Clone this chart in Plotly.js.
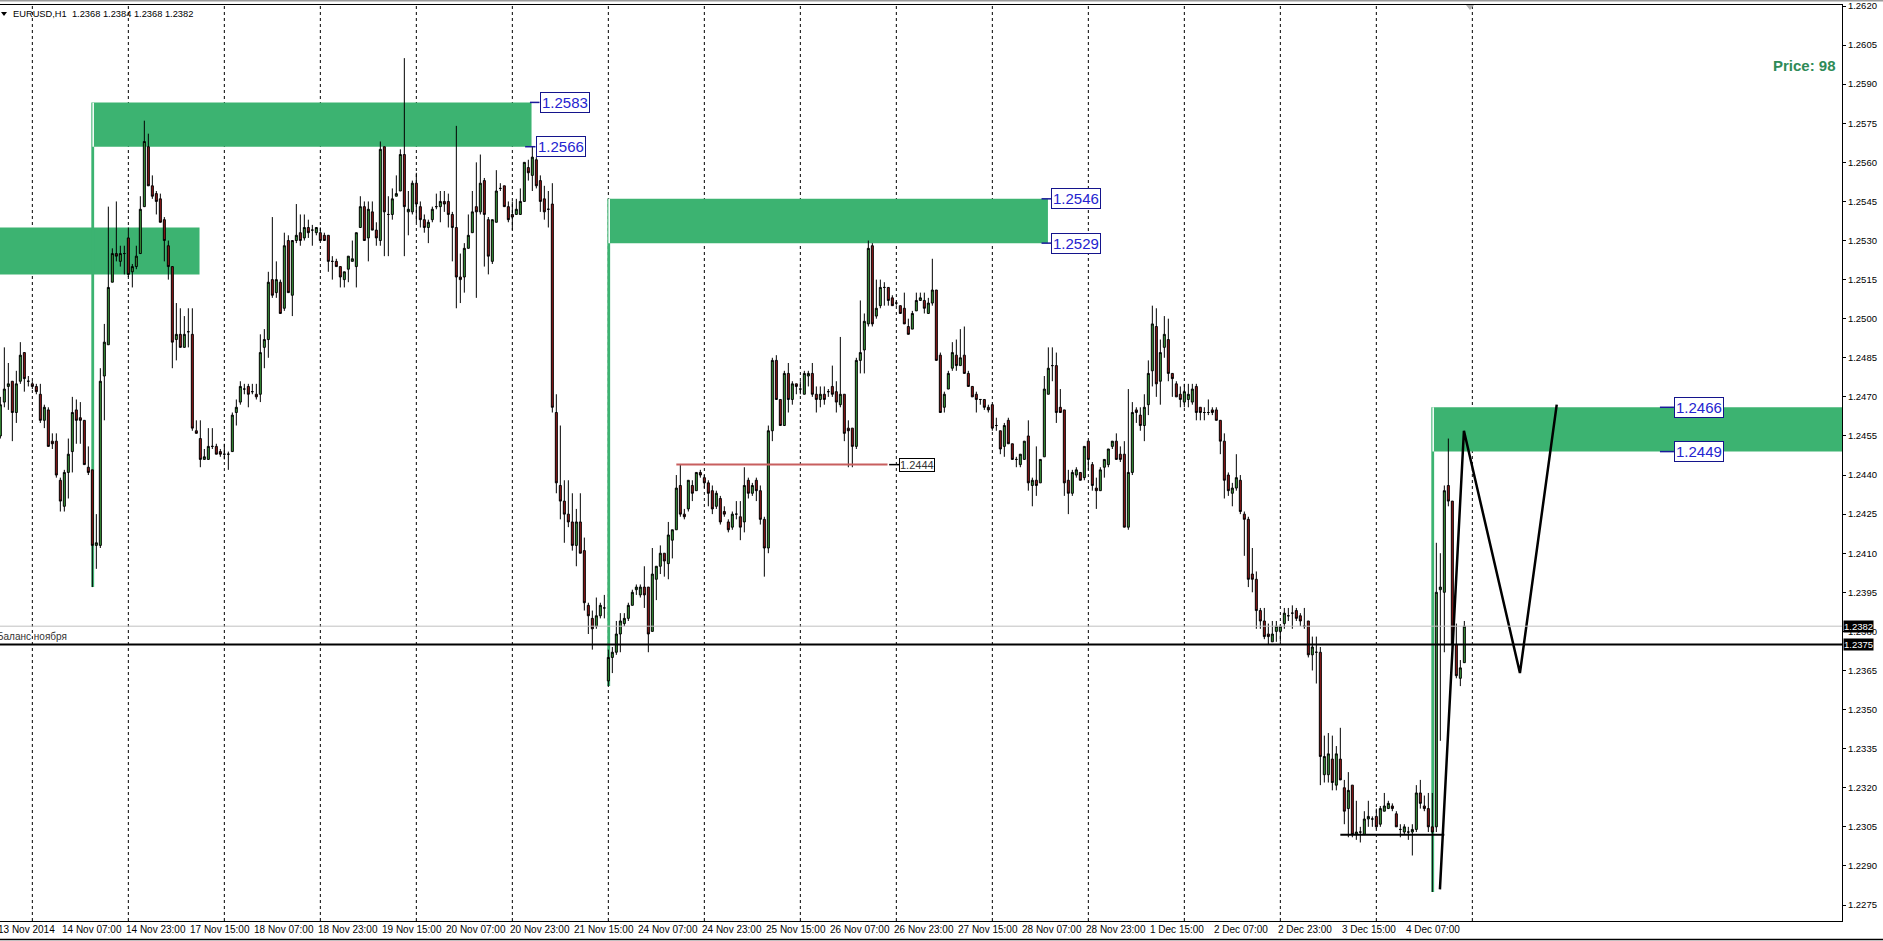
<!DOCTYPE html>
<html><head><meta charset="utf-8">
<script src="https://cdn.plot.ly/plotly-3.0.1.min.js"></script>
<style>html,body{margin:0;padding:0;background:#fff;overflow:hidden}#chart{width:1883px;height:941px}</style>
</head><body><div id="chart"></div>
<script>
// ---------- DATA (EURUSD H1, bar index 0 = 14 Nov 2014 07:00) ----------
const firstBar = -15;
const openP = [
1.2455,1.2468,1.2474,1.2476,1.2464,1.2476,1.2487,1.2476,1.2475,1.2474,
1.2471,1.2461,1.2465,1.2453,1.2453,1.2438,1.2428,1.2441,1.2449,1.2465,
1.2462,1.2461,1.2443,1.2442,1.2413,1.2413,1.2478,1.2490,1.2514,1.2525,
1.2522,1.2525,1.2531,1.2518,1.2520,1.2525,1.2543,1.2566,1.2551,1.2548,
1.2546,1.2538,1.2528,1.2520,1.2492,1.2494,1.2489,1.2495,1.2494,1.2457,
1.2454,1.2446,1.2446,1.2451,1.2451,1.2449,1.2448,1.2448,1.2449,1.2464,
1.2468,1.2473,1.2474,1.2472,1.2471,1.2471,1.2489,1.2492,1.2515,1.2510,
1.2514,1.2504,1.2530,1.2509,1.2530,1.2533,1.2531,1.2535,1.2534,1.2533,
1.2533,1.2532,1.2532,1.2522,1.2522,1.2520,1.2515,1.2519,1.2522,1.2520,
1.2535,1.2543,1.2531,1.2541,1.2534,1.2530,1.2566,1.2540,1.2540,1.2547,
1.2549,1.2563,1.2541,1.2541,1.2552,1.2543,1.2538,1.2535,1.2538,1.2543,
1.2543,1.2545,1.2545,1.2540,1.2535,1.2516,1.2516,1.2527,1.2533,1.2543,
1.2541,1.2553,1.2538,1.2522,1.2537,1.2550,1.2551,1.2543,1.2540,1.2540,
1.2540,1.2545,1.2558,1.2555,1.2561,1.2553,1.2546,1.2542,1.2544,1.2464,
1.2436,1.2430,1.2425,1.2422,1.2413,1.2422,1.2411,1.2390,1.2385,1.2382,
1.2386,1.2389,1.2361,1.2370,1.2372,1.2379,1.2383,1.2385,1.2390,1.2396,
1.2394,1.2397,1.2397,1.2380,1.2400,1.2405,1.2410,1.2406,1.2415,1.2419,
1.2436,1.2425,1.2427,1.2436,1.2434,1.2441,1.2439,1.2437,1.2434,1.2428,
1.2431,1.2426,1.2422,1.2420,1.2425,1.2424,1.2422,1.2438,1.2433,1.2438,
1.2434,1.2423,1.2412,1.2457,1.2484,1.2469,1.2459,1.2479,1.2469,1.2475,
1.2473,1.2471,1.2478,1.2479,1.2471,1.2469,1.2471,1.2472,1.2474,1.2472,
1.2467,1.2471,1.2458,1.2458,1.2451,1.2484,1.2488,1.2498,1.2528,1.2501,
1.2505,1.2512,1.2512,1.2508,1.2506,1.2505,1.2504,1.2497,1.2496,1.2503,
1.2507,1.2507,1.2502,1.2506,1.2511,1.2486,1.2466,1.2473,1.2481,1.2486,
1.2482,1.2486,1.2479,1.2474,1.2471,1.2469,1.2469,1.2466,1.2467,1.2459,
1.2457,1.2451,1.2461,1.2452,1.2446,1.2444,1.2446,1.2455,1.2436,1.2438,
1.2437,1.2447,1.2471,1.2482,1.2482,1.2466,1.2465,1.2438,1.2433,1.2440,
1.2441,1.2439,1.2453,1.2444,1.2435,1.2434,1.2443,1.2444,1.2451,1.2453,
1.2448,1.2448,1.2420,1.2441,1.2465,1.2463,1.2459,1.2467,1.2480,1.2497,
1.2476,1.2489,1.2492,1.2479,1.2475,1.2471,1.2468,1.2469,1.2468,1.2474,
1.2466,1.2464,1.2464,1.2465,1.2465,1.2461,1.2453,1.2440,1.2433,1.2435,
1.2438,1.2425,1.2423,1.2402,1.2400,1.2388,1.2384,1.2379,1.2376,1.2380,
1.2380,1.2383,1.2386,1.2387,1.2388,1.2386,1.2382,1.2384,1.2371,1.2372,
1.2372,1.2325,1.2325,1.2331,1.2321,1.2331,1.2320,1.2312,1.2321,1.2302,
1.2303,1.2302,1.2308,1.2308,1.2309,1.2306,1.2311,1.2312,1.2313,1.2310,
1.2304,1.2303,1.2303,1.2303,1.2304,1.2318,1.2313,1.2312,1.2305,1.2305,
1.2396,1.2395,1.2436,1.2430,1.2375,1.2362,1.2368];
const highP = [
1.2470,1.2489,1.2483,1.2476,1.2480,1.2491,1.2487,1.2478,1.2476,1.2475,
1.2475,1.2467,1.2466,1.2456,1.2456,1.2439,1.2442,1.2454,1.2470,1.2469,
1.2468,1.2461,1.2451,1.2442,1.2425,1.2481,1.2498,1.2543,1.2527,1.2545,
1.2528,1.2528,1.2535,1.2521,1.2528,1.2547,1.2576,1.2571,1.2555,1.2549,
1.2548,1.2539,1.2530,1.2520,1.2506,1.2504,1.2501,1.2504,1.2504,1.2461,
1.2461,1.2450,1.2458,1.2458,1.2452,1.2450,1.2452,1.2449,1.2464,1.2469,
1.2476,1.2475,1.2475,1.2475,1.2475,1.2494,1.2496,1.2518,1.2539,1.2522,
1.2515,1.2533,1.2532,1.2530,1.2544,1.2540,1.2540,1.2538,1.2536,1.2535,
1.2535,1.2533,1.2532,1.2524,1.2523,1.2520,1.2518,1.2524,1.2530,1.2533,
1.2547,1.2545,1.2545,1.2545,1.2537,1.2568,1.2566,1.2547,1.2550,1.2555,
1.2565,1.2600,1.2549,1.2553,1.2556,1.2545,1.2540,1.2538,1.2543,1.2548,
1.2549,1.2549,1.2548,1.2541,1.2574,1.2525,1.2529,1.2540,1.2549,1.2560,
1.2563,1.2554,1.2539,1.2538,1.2557,1.2552,1.2551,1.2545,1.2545,1.2546,
1.2550,1.2560,1.2561,1.2566,1.2562,1.2555,1.2551,1.2549,1.2552,1.2471,
1.2459,1.2438,1.2438,1.2433,1.2427,1.2433,1.2416,1.2391,1.2388,1.2393,
1.2391,1.2394,1.2373,1.2374,1.2384,1.2387,1.2387,1.2391,1.2396,1.2398,
1.2398,1.2405,1.2397,1.2412,1.2405,1.2413,1.2410,1.2422,1.2419,1.2440,
1.2444,1.2427,1.2438,1.2438,1.2441,1.2442,1.2440,1.2438,1.2436,1.2434,
1.2432,1.2428,1.2423,1.2426,1.2430,1.2430,1.2443,1.2439,1.2437,1.2439,
1.2436,1.2424,1.2459,1.2485,1.2486,1.2469,1.2480,1.2483,1.2476,1.2475,
1.2476,1.2480,1.2480,1.2483,1.2474,1.2474,1.2474,1.2473,1.2482,1.2476,
1.2493,1.2471,1.2461,1.2458,1.2485,1.2507,1.2502,1.2530,1.2529,1.2515,
1.2515,1.2514,1.2512,1.2509,1.2507,1.2505,1.2510,1.2500,1.2503,1.2510,
1.2510,1.2510,1.2508,1.2523,1.2511,1.2487,1.2472,1.2480,1.2491,1.2492,
1.2496,1.2497,1.2480,1.2474,1.2472,1.2469,1.2469,1.2467,1.2467,1.2462,
1.2457,1.2460,1.2462,1.2452,1.2447,1.2448,1.2453,1.2461,1.2439,1.2451,
1.2446,1.2478,1.2489,1.2489,1.2487,1.2473,1.2465,1.2442,1.2442,1.2443,
1.2441,1.2451,1.2453,1.2445,1.2439,1.2443,1.2446,1.2450,1.2453,1.2456,
1.2451,1.2453,1.2473,1.2468,1.2466,1.2466,1.2471,1.2484,1.2505,1.2504,
1.2492,1.2501,1.2500,1.2479,1.2476,1.2474,1.2475,1.2475,1.2475,1.2475,
1.2466,1.2466,1.2469,1.2466,1.2466,1.2461,1.2456,1.2441,1.2437,1.2448,
1.2440,1.2426,1.2424,1.2412,1.2403,1.2389,1.2389,1.2383,1.2384,1.2384,
1.2382,1.2389,1.2389,1.2390,1.2389,1.2387,1.2389,1.2384,1.2378,1.2378,
1.2374,1.2340,1.2341,1.2340,1.2336,1.2343,1.2323,1.2326,1.2321,1.2315,
1.2305,1.2311,1.2315,1.2309,1.2312,1.2313,1.2318,1.2315,1.2314,1.2311,
1.2306,1.2306,1.2305,1.2306,1.2321,1.2323,1.2317,1.2318,1.2318,1.2414,
1.2410,1.2436,1.2454,1.2430,1.2383,1.2369,1.2384];
const lowP = [
1.2454,1.2466,1.2465,1.2453,1.2460,1.2475,1.2472,1.2474,1.2473,1.2471,
1.2460,1.2458,1.2451,1.2450,1.2439,1.2426,1.2426,1.2431,1.2441,1.2452,
1.2452,1.2444,1.2440,1.2397,1.2404,1.2412,1.2461,1.2490,1.2514,1.2522,
1.2520,1.2517,1.2516,1.2512,1.2519,1.2525,1.2543,1.2551,1.2546,1.2540,
1.2537,1.2522,1.2515,1.2481,1.2484,1.2489,1.2489,1.2489,1.2457,1.2456,
1.2443,1.2446,1.2446,1.2450,1.2448,1.2447,1.2446,1.2442,1.2449,1.2459,
1.2467,1.2471,1.2466,1.2471,1.2469,1.2468,1.2481,1.2485,1.2508,1.2508,
1.2502,1.2503,1.2510,1.2501,1.2529,1.2528,1.2530,1.2531,1.2528,1.2532,
1.2530,1.2530,1.2518,1.2515,1.2520,1.2512,1.2512,1.2514,1.2522,1.2512,
1.2535,1.2530,1.2522,1.2534,1.2528,1.2528,1.2524,1.2524,1.2538,1.2547,
1.2549,1.2524,1.2532,1.2540,1.2537,1.2535,1.2533,1.2529,1.2537,1.2542,
1.2537,1.2541,1.2535,1.2522,1.2504,1.2506,1.2510,1.2527,1.2533,1.2508,
1.2540,1.2520,1.2517,1.2521,1.2537,1.2549,1.2543,1.2537,1.2534,1.2540,
1.2540,1.2545,1.2553,1.2549,1.2550,1.2541,1.2538,1.2535,1.2464,1.2433,
1.2423,1.2414,1.2420,1.2411,1.2405,1.2410,1.2388,1.2379,1.2373,1.2381,
1.2385,1.2385,1.2359,1.2364,1.2371,1.2372,1.2382,1.2384,1.2390,1.2394,
1.2393,1.2389,1.2372,1.2380,1.2392,1.2402,1.2401,1.2400,1.2408,1.2419,
1.2424,1.2423,1.2426,1.2430,1.2434,1.2439,1.2435,1.2428,1.2425,1.2427,
1.2421,1.2424,1.2418,1.2419,1.2423,1.2415,1.2418,1.2431,1.2432,1.2430,
1.2421,1.2401,1.2410,1.2453,1.2469,1.2459,1.2459,1.2464,1.2467,1.2471,
1.2471,1.2471,1.2474,1.2470,1.2464,1.2466,1.2467,1.2470,1.2470,1.2464,
1.2466,1.2453,1.2443,1.2443,1.2450,1.2479,1.2479,1.2497,1.2497,1.2500,
1.2504,1.2505,1.2505,1.2505,1.2505,1.2502,1.2498,1.2494,1.2496,1.2503,
1.2507,1.2502,1.2502,1.2505,1.2484,1.2464,1.2464,1.2473,1.2480,1.2480,
1.2482,1.2479,1.2474,1.2470,1.2464,1.2467,1.2465,1.2464,1.2457,1.2457,
1.2448,1.2447,1.2452,1.2446,1.2443,1.2443,1.2446,1.2434,1.2428,1.2432,
1.2437,1.2447,1.2471,1.2476,1.2460,1.2464,1.2432,1.2425,1.2432,1.2439,
1.2438,1.2438,1.2442,1.2434,1.2427,1.2434,1.2439,1.2443,1.2450,1.2446,
1.2445,1.2420,1.2419,1.2440,1.2460,1.2457,1.2453,1.2463,1.2474,1.2470,
1.2467,1.2485,1.2476,1.2470,1.2470,1.2466,1.2466,1.2466,1.2467,1.2461,
1.2461,1.2461,1.2463,1.2463,1.2461,1.2448,1.2431,1.2432,1.2428,1.2434,
1.2425,1.2409,1.2397,1.2395,1.2381,1.2381,1.2377,1.2375,1.2376,1.2376,
1.2376,1.2381,1.2384,1.2381,1.2384,1.2382,1.2381,1.2370,1.2365,1.2360,
1.2321,1.2322,1.2322,1.2319,1.2319,1.2323,1.2306,1.2301,1.2301,1.2300,
1.2299,1.2302,1.2305,1.2305,1.2304,1.2305,1.2311,1.2312,1.2311,1.2305,
1.2301,1.2302,1.2300,1.2294,1.2303,1.2312,1.2311,1.2303,1.2280,1.2303,
1.2338,1.2372,1.2428,1.2373,1.2362,1.2359,1.2368];
const closeP = [
1.2467,1.2473,1.2475,1.2464,1.2475,1.2486,1.2477,1.2476,1.2474,1.2472,
1.2461,1.2466,1.2451,1.2452,1.2440,1.2430,1.2441,1.2448,1.2464,1.2461,
1.2461,1.2444,1.2441,1.2413,1.2414,1.2476,1.2491,1.2512,1.2525,1.2524,
1.2525,1.2525,1.2517,1.2520,1.2524,1.2542,1.2568,1.2551,1.2547,1.2545,
1.2537,1.2530,1.2520,1.2491,1.2494,1.2489,1.2494,1.2495,1.2458,1.2456,
1.2446,1.2447,1.2451,1.2451,1.2448,1.2448,1.2448,1.2448,1.2463,1.2466,
1.2474,1.2473,1.2471,1.2472,1.2470,1.2487,1.2492,1.2514,1.2509,1.2515,
1.2502,1.2528,1.2510,1.2530,1.2532,1.2530,1.2535,1.2533,1.2534,1.2535,
1.2530,1.2530,1.2522,1.2522,1.2520,1.2516,1.2518,1.2524,1.2523,1.2533,
1.2543,1.2530,1.2542,1.2534,1.2531,1.2565,1.2541,1.2540,1.2546,1.2548,
1.2563,1.2543,1.2542,1.2552,1.2544,1.2538,1.2535,1.2537,1.2542,1.2543,
1.2545,1.2544,1.2540,1.2535,1.2516,1.2515,1.2527,1.2532,1.2541,1.2541,
1.2552,1.2540,1.2524,1.2538,1.2549,1.2550,1.2543,1.2538,1.2539,1.2542,
1.2545,1.2560,1.2556,1.2562,1.2551,1.2545,1.2541,1.2542,1.2466,1.2437,
1.2430,1.2425,1.2422,1.2413,1.2422,1.2410,1.2391,1.2386,1.2381,1.2386,
1.2390,1.2389,1.2370,1.2372,1.2379,1.2384,1.2385,1.2390,1.2395,1.2397,
1.2397,1.2394,1.2379,1.2402,1.2405,1.2410,1.2407,1.2417,1.2419,1.2435,
1.2425,1.2424,1.2438,1.2433,1.2441,1.2440,1.2437,1.2433,1.2427,1.2433,
1.2422,1.2425,1.2419,1.2425,1.2425,1.2420,1.2436,1.2433,1.2436,1.2434,
1.2423,1.2412,1.2457,1.2484,1.2469,1.2459,1.2479,1.2469,1.2475,1.2474,
1.2473,1.2479,1.2479,1.2471,1.2469,1.2471,1.2469,1.2472,1.2471,1.2468,
1.2471,1.2456,1.2457,1.2451,1.2484,1.2487,1.2499,1.2527,1.2498,1.2504,
1.2512,1.2512,1.2507,1.2505,1.2506,1.2502,1.2498,1.2494,1.2502,1.2507,
1.2508,1.2504,1.2506,1.2511,1.2484,1.2464,1.2471,1.2479,1.2487,1.2482,
1.2485,1.2479,1.2474,1.2470,1.2469,1.2469,1.2466,1.2465,1.2458,1.2459,
1.2450,1.2459,1.2452,1.2446,1.2446,1.2448,1.2453,1.2437,1.2438,1.2436,
1.2446,1.2473,1.2481,1.2482,1.2464,1.2464,1.2437,1.2433,1.2441,1.2442,
1.2438,1.2451,1.2446,1.2436,1.2434,1.2442,1.2446,1.2450,1.2453,1.2446,
1.2446,1.2420,1.2441,1.2464,1.2464,1.2459,1.2466,1.2479,1.2498,1.2475,
1.2487,1.2494,1.2479,1.2477,1.2470,1.2469,1.2472,1.2471,1.2473,1.2464,
1.2464,1.2464,1.2464,1.2464,1.2461,1.2453,1.2438,1.2434,1.2435,1.2439,
1.2426,1.2423,1.2400,1.2400,1.2388,1.2384,1.2378,1.2378,1.2379,1.2382,
1.2382,1.2387,1.2386,1.2387,1.2385,1.2384,1.2382,1.2371,1.2374,1.2372,
1.2332,1.2332,1.2333,1.2322,1.2333,1.2323,1.2311,1.2319,1.2302,1.2303,
1.2303,1.2308,1.2309,1.2308,1.2305,1.2312,1.2313,1.2314,1.2312,1.2305,
1.2304,1.2305,1.2303,1.2304,1.2318,1.2314,1.2312,1.2305,1.2303,1.2395,
1.2397,1.2434,1.2430,1.2375,1.2363,1.2366,1.2382];

const timeLabels = ['13 Nov 2014','14 Nov 07:00','14 Nov 23:00','17 Nov 15:00','18 Nov 07:00','18 Nov 23:00',
  '19 Nov 15:00','20 Nov 07:00','20 Nov 23:00','21 Nov 15:00','24 Nov 07:00','24 Nov 23:00','25 Nov 15:00',
  '26 Nov 07:00','26 Nov 23:00','27 Nov 15:00','28 Nov 07:00','28 Nov 23:00','1 Dec 15:00','2 Dec 07:00',
  '2 Dec 23:00','3 Dec 15:00','4 Dec 07:00'];
const firstLabelBar = -16, labelEvery = 16;
const daySeparatorBars = [-7,17,41,65,89,113,137,161,185,209,233,257,281,305,329,353];

// supply zones: bar span and price span; zoneLowPrice = low of the candle the zone was drawn from
const zoneTop    = [1.2535, 1.2583, 1.2546, 1.2466];
const zoneBottom = [1.2517, 1.2566, 1.2529, 1.2449];
const zoneFrom   = [-40, 8, 137, 343];
const zoneTo     = [34.8, 117.8, 246.9, 520];
const zoneLowPrice = [null, 1.2397, 1.2359, 1.2280];

const balanceLevel = 1.2375, bidLevel = 1.2382;
const redLevel = 1.2444, redFrom = 154, redTo = 206.8;
const baseLevel = 1.2302, baseFrom = 320, baseTo = 346;
const forecastBars = [344.9, 350.9, 364.9, 374.1];
const forecastPrices = [1.2281, 1.2457, 1.2364, 1.2467];
const tagPrices = [1.2583, 1.2566, 1.2546, 1.2529, 1.2466, 1.2449, 1.2444];
const tagBars   = [119.8, 118.8, 247.7, 247.7, 403.4, 403.4, 209.7];
const tagTickFrom = [117.4, 116.2, 245.3, 245.3, 399.9, 399.9, 207.2];
const tagBlue   = [true, true, true, true, true, true, false];

// ---------- CHART ----------
const FONT = 'Liberation Sans, Arial, sans-serif';
const PL = 0, PT = 5, PW = 1842, PH = 916;
const BAR0 = 60.33, BARW = 4;            // pixel of bar 0 and bar spacing
const px = v => (v - PL) / PW, py = v => 1 - (v - PT) / PH;
const barPaper = b => px(BAR0 + BARW * b);
const bars = openP.map((_, i) => firstBar + i);
const GREEN = 'rgb(60,179,113)';

const shapes = [], annotations = [];
for (let i = 0; i < zoneTop.length; i++) {
  shapes.push({type:'rect', xref:'x', yref:'y', x0:zoneFrom[i], x1:zoneTo[i], y0:zoneBottom[i], y1:zoneTop[i],
    fillcolor:GREEN, line:{width:0}, layer:'below'});
}
for (let i = 0; i < zoneTop.length; i++) {
  if (zoneLowPrice[i] === null) continue;
  const b = zoneFrom[i];
  shapes.push({type:'rect', xref:'x', yref:'y', x0:b-0.25, x1:b+0.45, y0:zoneLowPrice[i], y1:zoneTop[i],
    fillcolor:GREEN, line:{width:0}, layer:'below'});
  shapes.push({type:'rect', xref:'x', yref:'y', x0:b+0.02, x1:b+0.4, y0:zoneBottom[i], y1:zoneTop[i],
    fillcolor:'#ffffff', line:{width:0}, layer:'below'});
}
daySeparatorBars.forEach(b => shapes.push({type:'line', xref:'x', yref:'paper', x0:b, x1:b, y0:0, y1:1,
  line:{color:'#000', width:1, dash:'3px,3px'}, layer:'below'}));
shapes.push({type:'line', xref:'paper', yref:'y', x0:0, x1:1, y0:bidLevel, y1:bidLevel, line:{color:'#c0c0c0', width:1}, layer:'above'});
shapes.push({type:'line', xref:'paper', yref:'y', x0:0, x1:1, y0:balanceLevel, y1:balanceLevel, line:{color:'#000', width:2}, layer:'above'});
shapes.push({type:'line', xref:'x', yref:'y', x0:redFrom, x1:redTo, y0:redLevel, y1:redLevel, line:{color:'rgb(200,95,95)', width:2}, layer:'above'});
shapes.push({type:'line', xref:'x', yref:'y', x0:baseFrom, x1:baseTo, y0:baseLevel, y1:baseLevel, line:{color:'#000', width:2}, layer:'above'});
for (let i = 0; i < tagPrices.length; i++) {
  const blue = tagBlue[i];
  shapes.push({type:'line', xref:'x', yref:'y', x0:tagTickFrom[i], x1:tagBars[i], y0:tagPrices[i], y1:tagPrices[i],
    line:{color: blue ? '#1a1a9a' : '#000', width:1.5}, layer:'above'});
  annotations.push({xref:'x', yref:'y', x:tagBars[i], y:tagPrices[i], xanchor:'left', yanchor:'middle',
    text: tagPrices[i].toFixed(4), showarrow:false,
    font:{family:FONT, size: blue ? 15 : 11, color: blue ? '#2424d0' : '#333'},
    bgcolor:'#fff', bordercolor: blue ? '#14148c' : '#000', borderwidth:1, borderpad: blue ? 1 : 0});
}
shapes.push({type:'line', xref:'paper', yref:'paper', x0:0, x1:1883/PW, y0:py(939.5), y1:py(939.5), line:{color:'#000', width:1.5}});
shapes.push({type:'line', xref:'paper', yref:'paper', x0:0, x1:1883/PW, y0:py(0.8), y1:py(0.8), line:{color:'#9a9a9a', width:1.5}});
shapes.push({type:'path', xref:'paper', yref:'paper',
  path:`M ${px(1)} ${py(12)} L ${px(7)} ${py(12)} L ${px(4)} ${py(16)} Z`, fillcolor:'#000', line:{width:0}});
shapes.push({type:'path', xref:'paper', yref:'paper',
  path:`M ${px(1466)} ${py(5)} L ${px(1474)} ${py(5)} L ${px(1470)} ${py(10)} Z`, fillcolor:'#b0b0b0', line:{width:0}});

timeLabels.forEach((t, i) => annotations.push({xref:'paper', yref:'paper', x:barPaper(firstLabelBar + labelEvery*i), y:0,
  xanchor:'left', yanchor:'top', yshift:-1, text:t, showarrow:false, font:{family:FONT, size:10, color:'#000'}}));
[bidLevel, balanceLevel].forEach(v => annotations.push({xref:'paper', yref:'y', x:1, y:v, xanchor:'left', yanchor:'middle',
  xshift:1, text:v.toFixed(4), showarrow:false, bgcolor:'#000', borderpad:0,
  font:{family:FONT, size:9.5, color:'#fff'}}));
const last = openP.length - 1;
annotations.push({xref:'paper', yref:'paper', x:px(11), y:py(14), xanchor:'left', yanchor:'middle', showarrow:false,
  text:'EURUSD,H1&nbsp;&nbsp;' + [openP[last], highP[last], lowP[last], closeP[last]].map(v => v.toFixed(4)).join(' '),
  font:{family:FONT, size:9.3, color:'#000'}});
annotations.push({xref:'paper', yref:'paper', x:px(1838), y:py(65), xanchor:'right', yanchor:'middle', showarrow:false,
  text:'<b>Price: 98</b>', font:{family:FONT, size:15, color:'rgb(46,139,87)'}});
annotations.push({xref:'paper', yref:'y', x:0, xshift:-5, y:balanceLevel, yanchor:'bottom', xanchor:'left', showarrow:false,
  text:'Баланс ноября', font:{family:FONT, size:10, color:'#333'}});

const traces = [
  {type:'candlestick', x:bars, open:openP, high:highP, low:lowP, close:closeP, whiskerwidth:0, hoverinfo:'skip',
   increasing:{line:{color:'#000', width:1}, fillcolor:'rgb(60,155,60)'},
   decreasing:{line:{color:'#000', width:1}, fillcolor:'rgb(150,25,25)'}},
  {type:'scatter', mode:'lines', x:forecastBars, y:forecastPrices, line:{color:'#000', width:2.5}, hoverinfo:'skip'}
];

const layout = {
  width:1883, height:941, margin:{l:PL, r:1883-PL-PW, t:PT, b:941-PT-PH},
  paper_bgcolor:'#fff', plot_bgcolor:'#fff', showlegend:false, boxgap:0.5, boxgroupgap:0,
  font:{family:FONT},
  xaxis:{range:[-BAR0/BARW, (PW-BAR0)/BARW], showticklabels:false, showgrid:false, zeroline:false, ticks:'',
    showline:true, linecolor:'#000', linewidth:1, mirror:true, rangeslider:{visible:false}, fixedrange:true},
  yaxis:{range:[1.2620-(PT+PH-6)/26058, 1.2620+1/26058], side:'right', showgrid:false, zeroline:false,
    showline:true, linecolor:'#000', linewidth:1, ticks:'outside', ticklen:3, tickcolor:'#000',
    tick0:1.2275, dtick:0.0015, tickformat:'.4f', tickfont:{family:FONT, size:9.5, color:'#000'}, fixedrange:true},
  shapes, annotations
};
Plotly.newPlot('chart', traces, layout, {staticPlot:true, displayModeBar:false});
</script></body></html>
